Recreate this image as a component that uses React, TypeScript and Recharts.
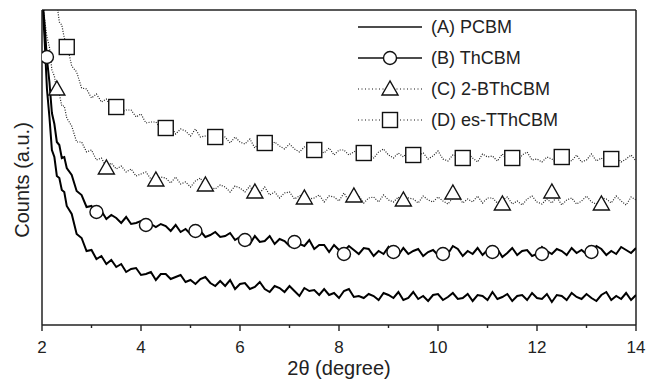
import React from "react";
import {
  ComposedChart,
  Line,
  Scatter,
  XAxis,
  YAxis,
  ReferenceLine,
  Legend,
} from "recharts";

const FONT = "'Liberation Sans', Arial, Helvetica, sans-serif";

// 2θ sampling (degree)
const theta = [
  2.0, 2.05, 2.1, 2.15, 2.2, 2.25, 2.3, 2.35, 2.4, 2.45,
  2.5, 2.6, 2.7, 2.8, 2.9, 3.0, 3.1, 3.2, 3.3, 3.4,
  3.5, 3.6, 3.7, 3.8, 3.9, 4.0, 4.1, 4.2, 4.3, 4.4,
  4.5, 4.6, 4.7, 4.8, 4.9, 5.0, 5.1, 5.2, 5.3, 5.4,
  5.5, 5.6, 5.7, 5.8, 5.9, 6.0, 6.1, 6.2, 6.3, 6.4,
  6.5, 6.6, 6.7, 6.8, 6.9, 7.0, 7.1, 7.2, 7.3, 7.4,
  7.5, 7.6, 7.7, 7.8, 7.9, 8.0, 8.1, 8.2, 8.3, 8.4,
  8.5, 8.6, 8.7, 8.8, 8.9, 9.0, 9.1, 9.2, 9.3, 9.4,
  9.5, 9.6, 9.7, 9.8, 9.9, 10.0, 10.1, 10.2, 10.3, 10.4,
  10.5, 10.6, 10.7, 10.8, 10.9, 11.0, 11.1, 11.2, 11.3, 11.4,
  11.5, 11.6, 11.7, 11.8, 11.9, 12.0, 12.1, 12.2, 12.3, 12.4,
  12.5, 12.6, 12.7, 12.8, 12.9, 13.0, 13.1, 13.2, 13.3, 13.4,
  13.5, 13.6, 13.7, 13.8, 13.9, 14.0,
];

// counts (a.u.)
const pcbm = [
  330, 288, 236, 208, 175, 168, 149, 147, 135, 133,
  119, 111, 91, 87, 74, 75, 66, 69, 61, 65,
  58, 61, 53, 56, 57, 50, 51, 53, 45, 51,
  51, 46, 48, 50, 43, 45, 41, 46, 48, 42,
  39, 44, 39, 45, 36, 41, 42, 36, 38, 43,
  36, 33, 39, 37, 33, 39, 34, 29, 37, 34,
  35, 30, 36, 30, 32, 27, 34, 36, 28, 29,
  27, 31, 29, 25, 32, 30, 27, 33, 25, 27,
  33, 26, 29, 24, 30, 31, 25, 28, 32, 26,
  27, 31, 24, 30, 29, 25, 33, 26, 28, 31,
  24, 29, 30, 25, 32, 27, 26, 31, 23, 30,
  29, 25, 32, 28, 26, 31, 27, 24, 30, 33,
  25, 29, 26, 32, 25, 30,
];

const thcbm = [
  330, 302, 266, 243, 212, 201, 183, 180, 167, 168,
  157, 150, 134, 130, 118, 119, 110, 114, 106, 110,
  107, 102, 108, 101, 102, 104, 96, 101, 98, 101,
  99, 94, 100, 93, 96, 91, 98, 94, 88, 90,
  93, 88, 89, 92, 85, 88, 89, 81, 89, 83,
  84, 89, 81, 86, 84, 79, 85, 81, 79, 85,
  76, 80, 80, 73, 80, 75, 74, 79, 75, 71,
  77, 76, 69, 74, 71, 78, 72, 70, 77, 71,
  74, 76, 69, 73, 75, 70, 72, 71, 79, 76,
  69, 74, 71, 77, 70, 75, 73, 76, 68, 72,
  77, 70, 74, 75, 69, 71, 78, 74, 71, 76,
  74, 70, 77, 72, 75, 71, 73, 79, 76, 70,
  74, 71, 78, 75, 72, 77,
];

const bthcbm = [
  340, 307, 288, 278, 255, 249, 233, 231, 219, 219,
  207, 199, 183, 183, 173, 175, 165, 167, 158, 162,
  156, 159, 153, 156, 149, 151, 153, 146, 146, 148,
  147, 142, 148, 141, 143, 138, 144, 147, 138, 138,
  136, 140, 138, 133, 139, 137, 133, 139, 131, 132,
  138, 130, 133, 127, 132, 133, 126, 129, 132, 126,
  127, 130, 123, 129, 128, 124, 132, 124, 126, 129,
  122, 127, 128, 123, 130, 125, 123, 128, 120, 127,
  126, 122, 129, 125, 123, 128, 124, 121, 127, 130,
  122, 126, 123, 129, 122, 127, 127, 122, 125, 128,
  121, 124, 120, 126, 129, 123, 121, 126, 122, 128,
  120, 125, 127, 121, 124, 129, 123, 121, 127, 126,
  122, 129, 124, 120, 128, 125,
];

const esTthcbm = [
  360, 355, 350, 345, 340, 330, 322, 303, 300, 287,
  282, 259, 253, 237, 236, 227, 231, 223, 226, 217,
  220, 213, 215, 215, 208, 211, 202, 203, 203, 196,
  197, 199, 191, 196, 194, 189, 196, 188, 189, 191,
  184, 188, 188, 182, 188, 183, 181, 186, 177, 183,
  182, 177, 183, 179, 176, 181, 176, 173, 178, 180,
  172, 175, 172, 177, 170, 175, 175, 170, 173, 176,
  169, 171, 167, 173, 176, 170, 167, 172, 168, 174,
  166, 170, 172, 166, 169, 174, 166, 164, 170, 169,
  165, 172, 167, 163, 171, 168, 169, 164, 171, 165,
  168, 163, 170, 173, 165, 166, 163, 168, 166, 162,
  169, 167, 164, 170, 163, 165, 171, 164, 167, 162,
  168, 169, 163, 166, 170, 164,
];

// symbol positions
const circleTheta = [2.1, 3.1, 4.1, 5.1, 6.1, 7.1, 8.1, 9.1, 10.1, 11.1, 12.1, 13.1];
const circleCounts = [268, 113, 100, 94, 85, 83, 71, 73, 71, 73, 71, 73];
const triangleTheta = [2.3, 3.3, 4.3, 5.3, 6.3, 7.3, 8.3, 9.3, 10.3, 11.3, 12.3, 13.3];
const triangleCounts = [236, 157, 145, 140, 133, 127, 129, 125, 132, 121, 133, 121];
const squareTheta = [2.5, 3.5, 4.5, 5.5, 6.5, 7.5, 8.5, 9.5, 10.5, 11.5, 12.5, 13.5];
const squareCounts = [278, 218, 197, 188, 182, 175, 172, 170, 167, 167, 168, 166];

const xTicks = [2, 3, 4, 5, 6, 7, 8, 9, 10, 11, 12, 13, 14];

const legendLabels = ["(A) PCBM", "(B) ThCBM", "(C) 2-BThCBM", "(D) es-TThCBM"];

const toPoints = (xs: number[], ys: number[]) => xs.map((x, i) => ({ x, y: ys[i] }));

const Circle = ({ cx, cy }: any) => (
  <circle cx={cx} cy={cy} r={6.5} fill="#fff" stroke="#111" strokeWidth={1.4} />
);
const Triangle = ({ cx, cy }: any) => (
  <polygon
    points={`${cx},${cy - 8} ${cx - 8},${cy + 6} ${cx + 8},${cy + 6}`}
    fill="#fff"
    stroke="#111"
    strokeWidth={1.4}
  />
);
const Square = ({ cx, cy }: any) => (
  <rect x={cx - 7.5} y={cy - 7.5} width={15} height={15} fill="#fff" stroke="#111" strokeWidth={1.4} />
);

const XTick = ({ x, y, payload }: any) => {
  const major = payload.value % 2 === 0;
  return (
    <g>
      <line x1={x} x2={x} y1={y} y2={y + (major ? 6 : 3)} stroke="#222" strokeWidth={1.4} />
      {major && (
        <text x={x} y={y + 28} textAnchor="middle" fontSize={17} fontFamily={FONT} fill="#222">
          {payload.value}
        </text>
      )}
    </g>
  );
};

const YLabel = () => (
  <text
    x={22}
    y={180}
    transform="rotate(-90 22 180)"
    textAnchor="middle"
    dominantBaseline="central"
    fontSize={20}
    fontFamily={FONT}
    fill="#222"
  >
    Counts (a.u.)
  </text>
);

const LegendBox = () => (
  <svg width={240} height={130}>
    {legendLabels.map((label, i) => {
      const cy = 14 + i * 31;
      const dotted = i >= 2;
      return (
        <g key={label}>
          <line
            x1={8}
            x2={72}
            y1={cy}
            y2={cy}
            stroke="#111"
            strokeWidth={dotted ? 1 : 1.3}
            strokeDasharray={dotted ? "1 2.5" : undefined}
          />
          {i === 1 && <Circle cx={40} cy={cy} />}
          {i === 2 && <Triangle cx={40} cy={cy} />}
          {i === 3 && <Square cx={40} cy={cy} />}
          <text x={81} y={cy} dominantBaseline="central" fontSize={18} fontFamily={FONT} fill="#222">
            {label}
          </text>
        </g>
      );
    })}
  </svg>
);

export default function App() {
  return (
    <div style={{ position: "absolute", left: 0, top: 0 }}>
      <ComposedChart width={646} height={380} margin={{ top: 10, right: 10, bottom: 25, left: 0 }}>
        <XAxis
          dataKey="x"
          type="number"
          domain={[2, 14]}
          ticks={xTicks}
          interval={0}
          tick={<XTick />}
          tickSize={0}
          tickMargin={0}
          tickLine={false}
          height={30}
          allowDataOverflow
          axisLine={{ stroke: "#222", strokeWidth: 1.5 }}
          label={{ value: "2θ (degree)", position: "bottom", offset: 6, fontSize: 20, fontFamily: FONT, fill: "#222" }}
        />
        <YAxis
          type="number"
          domain={[0, 315]}
          allowDataOverflow
          width={42}
          tick={false}
          tickLine={false}
          axisLine={{ stroke: "#222", strokeWidth: 1.5 }}
          label={{ content: <YLabel /> }}
        />
        <ReferenceLine y={315} stroke="#222" strokeWidth={1.5} />
        <ReferenceLine x={14} stroke="#222" strokeWidth={1.5} />
        <Line
          data={toPoints(theta, esTthcbm)}
          dataKey="y"
          type="linear"
          stroke="#222"
          strokeWidth={1.2}
          strokeDasharray="1 1.5"
          dot={false}
          isAnimationActive={false}
        />
        <Line
          data={toPoints(theta, bthcbm)}
          dataKey="y"
          type="linear"
          stroke="#222"
          strokeWidth={1.2}
          strokeDasharray="1 1.5"
          dot={false}
          isAnimationActive={false}
        />
        <Line
          data={toPoints(theta, thcbm)}
          dataKey="y"
          type="linear"
          stroke="#000"
          strokeWidth={2}
          dot={false}
          isAnimationActive={false}
        />
        <Line
          data={toPoints(theta, pcbm)}
          dataKey="y"
          type="linear"
          stroke="#000"
          strokeWidth={2}
          dot={false}
          isAnimationActive={false}
        />
        <Scatter data={toPoints(circleTheta, circleCounts)} dataKey="y" shape={<Circle />} isAnimationActive={false} />
        <Scatter data={toPoints(triangleTheta, triangleCounts)} dataKey="y" shape={<Triangle />} isAnimationActive={false} />
        <Scatter data={toPoints(squareTheta, squareCounts)} dataKey="y" shape={<Square />} isAnimationActive={false} />
        <Legend
          layout="vertical"
          align="center"
          verticalAlign="middle"
          content={<LegendBox />}
          wrapperStyle={{ left: 350, top: 13, width: 240, height: 130 }}
        />
      </ComposedChart>
    </div>
  );
}
